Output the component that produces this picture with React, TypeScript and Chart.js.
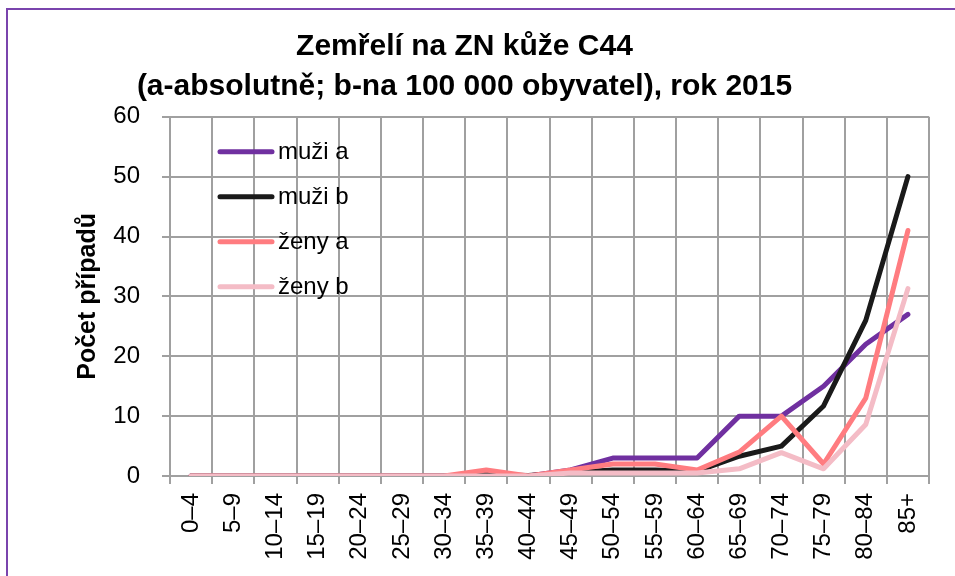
import React, { useEffect, useRef } from "react";
import { Chart, registerables } from "chart.js";

Chart.register(...registerables);

const ageGroups = ["0–4", "5–9", "10–14", "15–19", "20–24", "25–29", "30–34", "35–39", "40–44", "45–49", "50–54", "55–59", "60–64", "65–69", "70–74", "75–79", "80–84", "85+"];
const muziA = [0, 0, 0, 0, 0, 0, 0, 0, 0, 1, 3, 3, 3, 10, 10, 15, 22, 27];
const muziB = [0, 0, 0, 0, 0, 0, 0, 0.2, 0.1, 0.6, 1, 1, 0.8, 3.3, 5, 11.7, 26, 50];
const zenyA = [0, 0, 0, 0, 0, 0, 0, 1, 0, 1, 2, 2, 1, 4, 10, 2, 13, 41];
const zenyB = [0, 0, 0, 0, 0, 0, 0, 0, 0, 0.5, 0.5, 0.5, 0.5, 1.2, 3.9, 1.2, 8.6, 31.3];
const seriesNames = ["muži a", "muži b", "ženy a", "ženy b"];
const seriesColors = ["#7030A0", "#1a1a1a", "#FF7C80", "#F4BCC6"];
const titleLines = ["Zemřelí na ZN kůže C44", "(a-absolutně; b-na 100 000 obyvatel), rok 2015"];
const yTitle = "Počet případů";

const FONT = "'Liberation Sans', Arial, Helvetica, sans-serif";

const framePlugin = {
  id: "frame",
  afterDraw(chart: any) {
    const ctx = chart.ctx;
    ctx.save();
    ctx.strokeStyle = "#7a44ad";
    ctx.lineWidth = 2;
    ctx.beginPath();
    ctx.moveTo(7, chart.height);
    ctx.lineTo(7, 9);
    ctx.lineTo(chart.width, 9);
    ctx.stroke();
    ctx.restore();
  },
};

const insideLegendPlugin = {
  id: "insideLegend",
  afterDraw(chart: any) {
    const ctx = chart.ctx;
    const area = chart.chartArea;
    ctx.save();
    ctx.font = `24px ${FONT}`;
    ctx.textBaseline = "middle";
    ctx.textAlign = "left";
    chart.data.datasets.forEach((ds: any, i: number) => {
      const y = area.top + 35 + i * 45;
      const x0 = area.left + 50;
      const x1 = area.left + 102;
      ctx.strokeStyle = ds.borderColor;
      ctx.lineWidth = 5;
      ctx.lineCap = "round";
      ctx.beginPath();
      ctx.moveTo(x0, y);
      ctx.lineTo(x1, y);
      ctx.stroke();
      ctx.fillStyle = "#000";
      ctx.fillText(ds.label, area.left + 108, y + 1);
    });
    ctx.restore();
  },
};

export default function App() {
  const ref = useRef<HTMLCanvasElement | null>(null);
  useEffect(() => {
    document.body.style.margin = "0";
    const canvas = ref.current;
    if (!canvas) return;
    const seriesData = [muziA, muziB, zenyA, zenyB];
    const orders = [3, 2, 1, 0];
    const chart = new Chart(canvas, {
      type: "line",
      data: {
        labels: ageGroups,
        datasets: seriesData.map((d, i) => ({
          label: seriesNames[i],
          data: d,
          borderColor: seriesColors[i],
          backgroundColor: seriesColors[i],
          borderWidth: 5,
          pointRadius: 0,
          tension: 0,
          borderJoinStyle: "round" as const,
          borderCapStyle: "round" as const,
          order: orders[i],
        })),
      },
      options: {
        responsive: false,
        animation: false,
        layout: { padding: { left: 0, right: 26, top: 0, bottom: 0 } },
        plugins: {
          legend: { display: false },
          tooltip: { enabled: false },
          title: {
            display: true,
            text: titleLines,
            color: "#000",
            font: { family: FONT, size: 30, weight: "bold", lineHeight: 1.33 },
            padding: { top: 27, bottom: 10 },
          },
        },
        scales: {
          x: {
            type: "category",
            offset: true,
            grid: {
              offset: true,
              color: "#a0a0a0",
              lineWidth: 2,
              drawTicks: true,
              tickLength: 8,
            },
            border: { color: "#a0a0a0", width: 2 },
            ticks: {
              color: "#000",
              font: { family: FONT, size: 24 },
              minRotation: 90,
              maxRotation: 90,
              padding: 9,
              autoSkip: false,
            },
            afterFit(scale: any) {
              scale.height = 100;
            },
          },
          y: {
            min: 0,
            max: 60,
            grid: { color: "#a0a0a0", lineWidth: 2, tickLength: 8 },
            border: { color: "#a0a0a0", width: 2 },
            ticks: {
              stepSize: 10,
              color: "#000",
              font: { family: FONT, size: 24 },
              padding: 22,
            },
            title: {
              display: true,
              text: yTitle,
              color: "#000",
              font: { family: FONT, size: 25, weight: "bold" },
              padding: { top: 73, bottom: 0 },
            },
            afterFit(scale: any) {
              scale.width = 170;
            },
          },
        },
      },
      plugins: [framePlugin, insideLegendPlugin],
    });
    return () => chart.destroy();
  }, []);
  return (
    <div style={{ width: 955, height: 576 }}>
      <canvas ref={ref} width={955} height={576} />
    </div>
  );
}
